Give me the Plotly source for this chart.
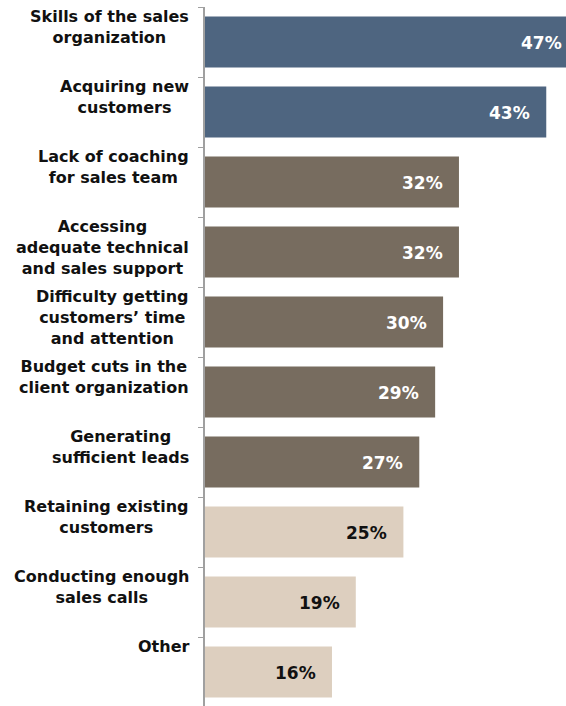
import plotly.graph_objects as go

categories = [
    "Skills of the sales<br>organization",
    "Acquiring new<br>customers",
    "Lack of coaching<br>for sales team",
    "Accessing<br>adequate technical<br>and sales support",
    "Difficulty getting<br>customers\u2019 time<br>and attention",
    "Budget cuts in the<br>client organization",
    "Generating<br>sufficient leads",
    "Retaining existing<br>customers",
    "Conducting enough<br>sales calls",
    "Other",
]
values = [47, 43, 32, 32, 30, 29, 27, 25, 19, 16]
bar_colors = ["#4e6580", "#4e6580", "#776c5f", "#776c5f", "#776c5f", "#776c5f",
              "#776c5f", "#ddcfbf", "#ddcfbf", "#ddcfbf"]
text_colors = ["#ffffff"] * 7 + ["#111111"] * 3

FONT = "DejaVu Sans"

fig = go.Figure()
fig.add_trace(go.Bar(
    y=categories,
    x=values,
    orientation="h",
    marker=dict(color=bar_colors, line=dict(width=0)),
    hoverinfo="skip",
))

for cat, v, tc in zip(categories, values, text_colors):
    # category label, top-aligned in its band
    fig.add_annotation(
        x=0, xref="paper", xanchor="right", xshift=-14,
        y=cat, yref="y", yanchor="top", yshift=37,
        text=cat, showarrow=False, align="center",
        font=dict(family=FONT, size=16, color="#111111", weight="bold"),
    )
    # value label inside the bar end
    fig.add_annotation(
        x=v, xref="x", xanchor="right", xshift=-14,
        y=cat, yref="y", yanchor="middle", yshift=-1,
        text=f"{v}%", showarrow=False,
        font=dict(family=FONT, size=17, color=tc, weight="bold"),
    )

fig.update_layout(
    width=578, height=709,
    margin=dict(l=205, r=0, t=7, b=0),
    paper_bgcolor="white", plot_bgcolor="white",
    bargap=0.27,
    showlegend=False,
    xaxis=dict(range=[0, 47], visible=False, fixedrange=True),
    yaxis=dict(
        autorange="reversed",
        showticklabels=False,
        tickson="boundaries",
        ticks="outside", ticklen=5, tickcolor="#a0a0a0", tickwidth=1,
        showline=True, linecolor="#a0a0a0", linewidth=1.5,
        showgrid=False, zeroline=False, fixedrange=True,
    ),
)

fig.write_html(
    "out.html",
    config={"displayModeBar": False},
    post_script="document.body.style.margin='0';document.body.style.overflow='hidden';",
)
